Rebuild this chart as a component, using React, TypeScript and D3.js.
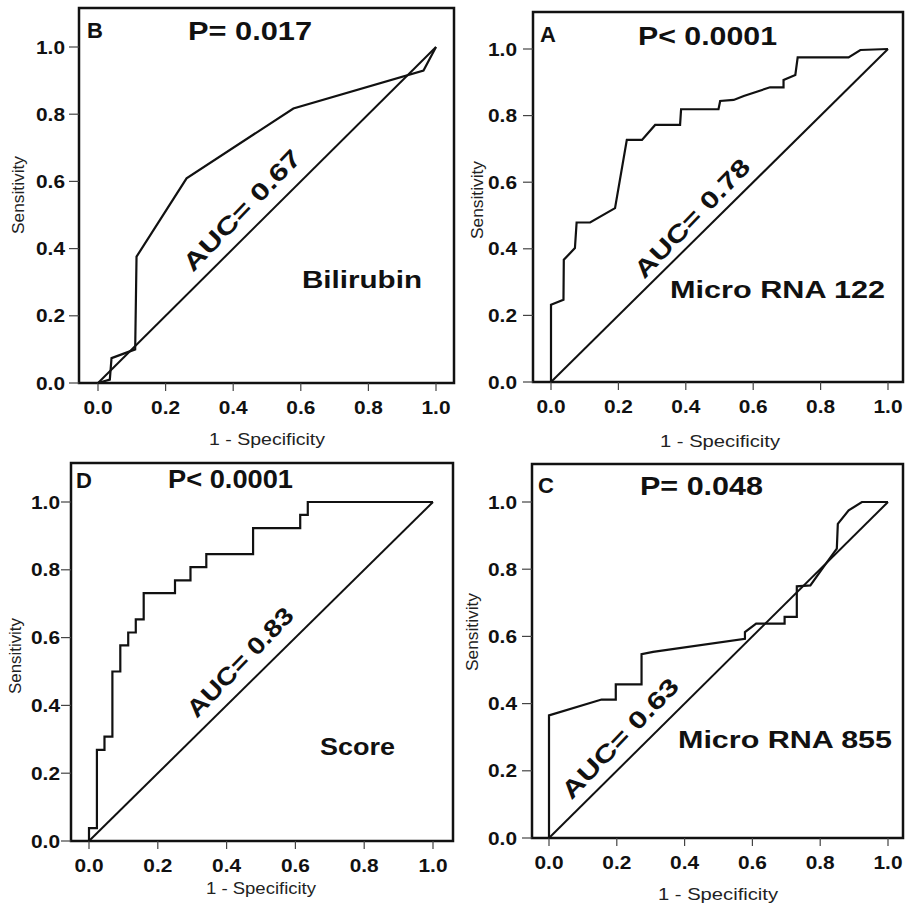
import React from 'react';
import * as d3 from 'd3';

// ROC points (1 - specificity, sensitivity)
const bilirubinFpr = [0, 0.035, 0.04, 0.11, 0.114, 0.262, 0.578, 0.963, 1];
const bilirubinTpr = [0, 0.01, 0.074, 0.1, 0.376, 0.609, 0.817, 0.93, 1];

const mir122Fpr = [0, 0, 0.037, 0.038, 0.071, 0.076, 0.116, 0.19, 0.225, 0.27, 0.309, 0.383, 0.386, 0.497, 0.502, 0.542, 0.572, 0.65, 0.69, 0.69, 0.725, 0.732, 0.883, 0.918, 1];
const mir122Tpr = [0, 0.232, 0.247, 0.367, 0.402, 0.479, 0.479, 0.522, 0.727, 0.727, 0.772, 0.772, 0.819, 0.819, 0.844, 0.847, 0.859, 0.885, 0.885, 0.907, 0.922, 0.975, 0.975, 0.997, 1];

const scoreFpr = [0, 0, 0.023, 0.023, 0.045, 0.045, 0.068, 0.068, 0.091, 0.091, 0.114, 0.114, 0.136, 0.136, 0.159, 0.159, 0.25, 0.25, 0.295, 0.295, 0.341, 0.341, 0.477, 0.477, 0.614, 0.614, 0.636, 0.636, 1];
const scoreTpr = [0, 0.038, 0.038, 0.269, 0.269, 0.308, 0.308, 0.5, 0.5, 0.577, 0.577, 0.615, 0.615, 0.654, 0.654, 0.731, 0.731, 0.769, 0.769, 0.808, 0.808, 0.846, 0.846, 0.923, 0.923, 0.962, 0.962, 1, 1];

const mir855Fpr = [0, 0, 0.155, 0.197, 0.197, 0.273, 0.273, 0.307, 0.578, 0.578, 0.611, 0.695, 0.695, 0.731, 0.731, 0.771, 0.81, 0.849, 0.852, 0.884, 0.923, 1];
const mir855Tpr = [0, 0.365, 0.412, 0.412, 0.457, 0.457, 0.547, 0.554, 0.593, 0.613, 0.638, 0.638, 0.658, 0.658, 0.749, 0.752, 0.807, 0.861, 0.935, 0.975, 1, 1];

const tickValues = [0, 0.2, 0.4, 0.6, 0.8, 1.0];
const panelLetters = ['B', 'A', 'D', 'C'];
const pValues = ['P= 0.017', 'P< 0.0001', 'P< 0.0001', 'P= 0.048'];
const aucLabels = ['AUC= 0.67', 'AUC= 0.78', 'AUC= 0.83', 'AUC= 0.63'];
const markerNames = ['Bilirubin', 'Micro RNA 122', 'Score', 'Micro RNA 855'];

const FONT = '"Liberation Sans", Arial, Helvetica, sans-serif';

// layout for each panel (pixels)
const layouts = [
  { frame: [79, 8, 454, 383], xr: [98, 436], yr: [383, 47], letter: [87, 38], p: [188, 40, 124], name: [302, 288, 120], auc: [248, 216, 158], xlab: [267, 445, 116], ylab: [24, 195, 78], tickRight: 65 },
  { frame: [533, 12, 903, 382], xr: [551, 888], yr: [382, 49], letter: [540, 42], p: [638, 45, 139], name: [670, 298, 215], auc: [698, 224, 155], xlab: [720, 447, 120], ylab: [483, 200, 78], tickRight: 517 },
  { frame: [71, 463, 453, 841], xr: [89, 433], yr: [841, 502], letter: [76, 488], p: [168, 488, 125], name: [320, 755, 75], auc: [246, 668, 142], xlab: [261, 894, 110], ylab: [21, 656, 76], tickRight: 60 },
  { frame: [532, 464, 903, 838], xr: [549, 888], yr: [838, 502], letter: [538, 493], p: [640, 495, 123], name: [678, 748, 214], auc: [626, 744, 157], xlab: [718, 900, 120], ylab: [478, 632, 78], tickRight: 517 },
];

const series = [
  [bilirubinFpr, bilirubinTpr],
  [mir122Fpr, mir122Tpr],
  [scoreFpr, scoreTpr],
  [mir855Fpr, mir855Tpr],
];

function Panel({ idx }: { idx: number }) {
  const L = layouts[idx];
  const [fpr, tpr] = series[idx];
  const x = d3.scaleLinear().domain([0, 1]).range(L.xr);
  const y = d3.scaleLinear().domain([0, 1]).range(L.yr);
  const line = d3.line<number>().x((d, i) => x(fpr[i])).y((d, i) => y(tpr[i]));
  const diag = d3.line<number>().x(d => x(d)).y(d => y(d));
  const [fx0, fy0, fx1, fy1] = L.frame;

  return (
    <g>
      <rect x={fx0} y={fy0} width={fx1 - fx0} height={fy1 - fy0} fill="#fff" stroke="#111" strokeWidth={2.5} />
      {tickValues.map(t => (
        <g key={'x' + t}>
          <line x1={x(t)} x2={x(t)} y1={fy1} y2={fy1 + 8} stroke="#444" strokeWidth={1.2} />
          <text x={x(t)} y={fy1 + 31} textAnchor="middle" fontFamily={FONT} fontWeight="bold" fontSize={18}
            textLength={29} lengthAdjust="spacingAndGlyphs" fill="#111">{d3.format('.1f')(t)}</text>
          <line x1={fx0 - 10} x2={fx0} y1={y(t)} y2={y(t)} stroke="#444" strokeWidth={1.2} />
          <text x={L.tickRight} y={y(t) + 6.5} textAnchor="end" fontFamily={FONT} fontWeight="bold" fontSize={18}
            textLength={29} lengthAdjust="spacingAndGlyphs" fill="#111">{d3.format('.1f')(t)}</text>
        </g>
      ))}
      <path d={diag([0, 1]) || ''} fill="none" stroke="#111" strokeWidth={2} />
      <path d={line(fpr) || ''} fill="none" stroke="#111" strokeWidth={2.2} strokeLinejoin="miter" />
      <text x={L.letter[0]} y={L.letter[1]} fontFamily={FONT} fontWeight="bold" fontSize={22} fill="#111">{panelLetters[idx]}</text>
      <text x={L.p[0]} y={L.p[1]} fontFamily={FONT} fontWeight="bold" fontSize={25} fill="#111"
        textLength={L.p[2]} lengthAdjust="spacingAndGlyphs">{pValues[idx]}</text>
      <text x={L.name[0]} y={L.name[1]} fontFamily={FONT} fontWeight="bold" fontSize={23} fill="#111"
        textLength={L.name[2]} lengthAdjust="spacingAndGlyphs">{markerNames[idx]}</text>
      <text transform={`translate(${L.auc[0]},${L.auc[1]}) rotate(-46)`} textAnchor="middle" fontFamily={FONT}
        fontWeight="bold" fontSize={24} fill="#111" textLength={L.auc[2]} lengthAdjust="spacingAndGlyphs">{aucLabels[idx]}</text>
      <text x={L.xlab[0]} y={L.xlab[1]} textAnchor="middle" fontFamily={FONT} fontSize={17} fill="#222"
        textLength={L.xlab[2]} lengthAdjust="spacingAndGlyphs">1 - Specificity</text>
      <text transform={`translate(${L.ylab[0]},${L.ylab[1]}) rotate(-90)`} textAnchor="middle" fontFamily={FONT}
        fontSize={16} fill="#222" textLength={L.ylab[2]} lengthAdjust="spacingAndGlyphs">Sensitivity</text>
    </g>
  );
}

export default function App() {
  return (
    <svg width={906} height={909} style={{ position: 'absolute', left: 0, top: 0, background: '#fff' }}>
      {layouts.map((_, i) => <Panel key={i} idx={i} />)}
    </svg>
  );
}
